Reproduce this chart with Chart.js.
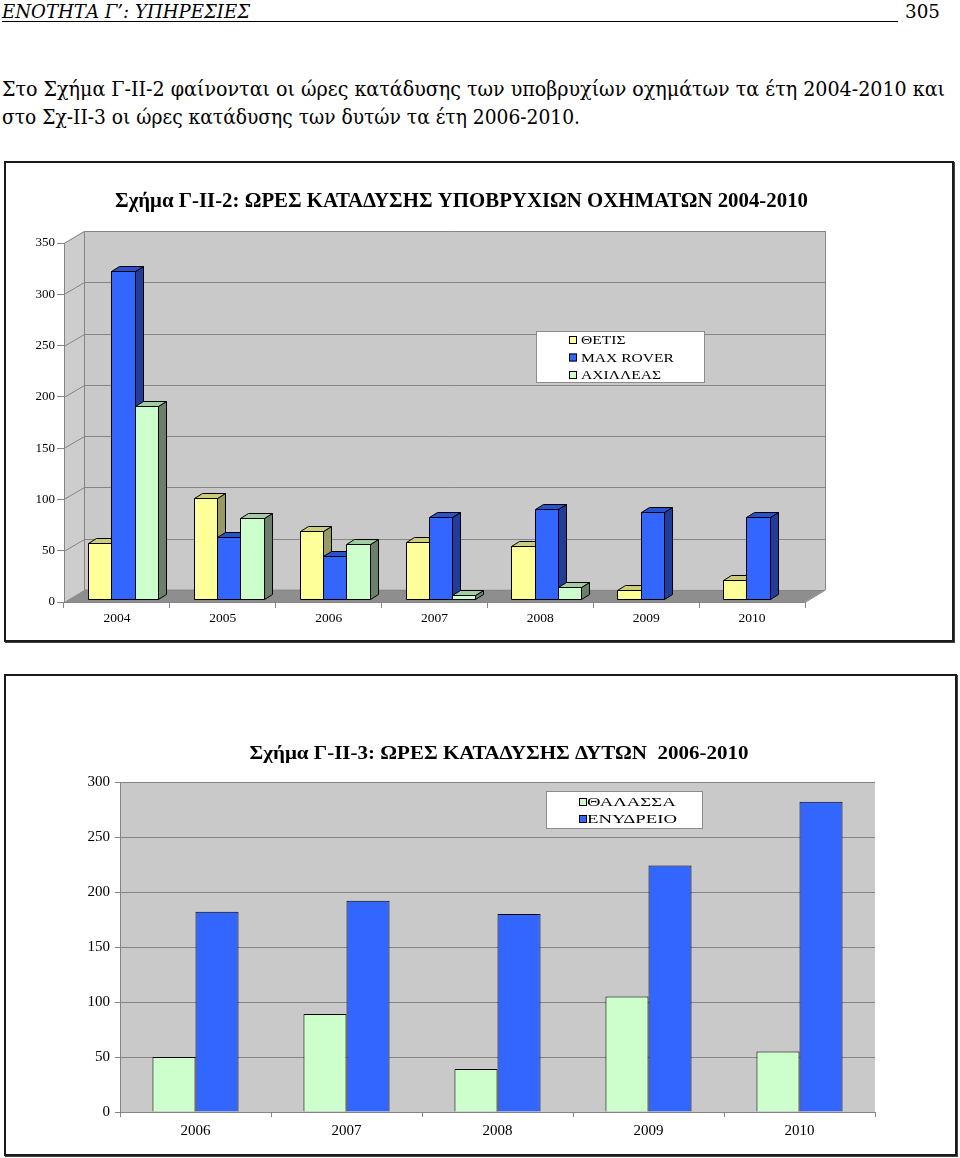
<!DOCTYPE html>
<html lang="el">
<head>
<meta charset="utf-8">
<script src="https://cdn.jsdelivr.net/npm/chart.js@4.4.1/dist/chart.umd.min.js"></script>
<style>
  html, body { margin: 0; padding: 0; }
  body { width: 960px; height: 1158px; background: #fff; position: relative; overflow: hidden; color: #000;
         font-family: 'DejaVu Serif', serif; }
  .t { position: absolute; white-space: pre; transform-origin: 0 0; font-family: 'DejaVu Serif', serif; }
  #hdr { left: 2px; top: 2px; font-size: 19px; line-height: 19px; font-style: italic; }
  #uline { position: absolute; left: 2px; top: 21px; width: 896px; height: 0; border-top: 1px solid #000; }
  #pg { left: 905px; top: 2px; font-size: 19px; line-height: 19px; }
  .p { font-size: 21px; line-height: 21px; left: 2px; }
  #p1 { top: 79px; }
  #p2 { top: 107px; }
  canvas { position: absolute; left: 0; }
  #c1 { top: 161px; }
  #c2 { top: 674px; }
  .frame { position: absolute; box-sizing: border-box; border: 2px solid #1a1a1a; box-shadow: 1px 1px 0 #444; pointer-events: none; }
  #f1 { left: 4px; top: 161px; width: 950px; height: 481px; }
  #f2 { left: 4px; top: 674px; width: 953px; height: 482px; }
</style>
</head>
<body>
<div id="hdr" class="t" data-w="248">ΕΝΟΤΗΤΑ Γ’: ΥΠΗΡΕΣΙΕΣ</div>
<div id="uline"></div>
<div id="pg" class="t" data-w="35">305</div>
<div id="p1" class="t p" data-w="943">Στο Σχήμα Γ-ΙΙ-2 φαίνονται οι ώρες κατάδυσης των υποβρυχίων οχημάτων τα έτη 2004-2010 και</div>
<div id="p2" class="t p" data-w="578">στο Σχ-ΙΙ-3 οι ώρες κατάδυσης των δυτών τα έτη 2006-2010.</div>

<canvas id="c1" width="960" height="481"></canvas>
<canvas id="c2" width="960" height="483"></canvas>
<div id="f1" class="frame"></div>
<div id="f2" class="frame"></div>

<script>
// ---------------- DATA ----------------
const years1 = ['2004', '2005', '2006', '2007', '2008', '2009', '2010'];
const thetis = [55, 98, 66, 56, 52, 9, 19];
const maxRover = [320, 60, 42, 80, 88, 85, 80];
const achilleas = [188, 79, 54, 4, 12, 0, 0];
const yTicks1 = [0, 50, 100, 150, 200, 250, 300, 350];
const title1 = 'Σχήμα Γ-ΙΙ-2: ΩΡΕΣ ΚΑΤΑΔΥΣΗΣ ΥΠΟΒΡΥΧΙΩΝ ΟΧΗΜΑΤΩΝ 2004-2010';
const seriesNames1 = ['ΘΕΤΙΣ', 'MAX ROVER', 'ΑΧΙΛΛΕΑΣ'];

const years2 = ['2006', '2007', '2008', '2009', '2010'];
const thalassa = [50, 89, 39, 105, 55];
const enydreio = [182, 192, 180, 224, 282];
const yTicks2 = [0, 50, 100, 150, 200, 250, 300];
const title2 = 'Σχήμα Γ-ΙΙ-3: ΩΡΕΣ ΚΑΤΑΔΥΣΗΣ ΔΥΤΩΝ  2006-2010';
const seriesNames2 = ['ΘΑΛΑΣΣΑ', 'ΕΝΥΔΡΕΙΟ'];

// ---------------- HTML text fitting ----------------
function fitAll() {
  document.querySelectorAll('[data-w]').forEach(el => {
    el.style.transform = 'none';
    const w = el.getBoundingClientRect().width;
    const target = parseFloat(el.dataset.w);
    if (w > 0) el.style.transform = 'scaleX(' + (target / w) + ')';
  });
}
fitAll();
if (document.fonts && document.fonts.ready) document.fonts.ready.then(fitAll);

// ---------------- helpers ----------------
const SERIF = "'Liberation Serif', 'Times New Roman', serif";
Chart.defaults.font.family = SERIF;
Chart.defaults.color = '#000';

function poly(ctx, pts, fill, stroke) {
  ctx.beginPath();
  ctx.moveTo(pts[0][0], pts[0][1]);
  for (let i = 1; i < pts.length; i++) ctx.lineTo(pts[i][0], pts[i][1]);
  ctx.closePath();
  if (fill) { ctx.fillStyle = fill; ctx.fill(); }
  if (stroke) { ctx.strokeStyle = stroke; ctx.stroke(); }
}

const fitTitle = {
  id: 'fitTitle',
  afterDraw(chart, args, o) {
    const ctx = chart.ctx;
    ctx.save();
    ctx.font = o.font;
    const w = ctx.measureText(o.text).width;
    ctx.translate(o.cx, o.baseline);
    ctx.scale(o.width / w, 1);
    ctx.fillStyle = '#000';
    ctx.textAlign = 'center';
    ctx.textBaseline = 'alphabetic';
    ctx.fillText(o.text, 0, 0);
    ctx.restore();
  }
};

const boxLegend = {
  id: 'boxLegend',
  afterDraw(chart, args, o) {
    const ctx = chart.ctx;
    ctx.save();
    ctx.fillStyle = '#fff';
    ctx.fillRect(o.x, o.y, o.w, o.h);
    ctx.strokeStyle = '#8c8c8c';
    ctx.lineWidth = 1;
    ctx.strokeRect(o.x + 0.5, o.y + 0.5, o.w - 1, o.h - 1);
    ctx.font = o.font;
    const sx = o.refWidth / ctx.measureText(o.refText).width;
    chart.data.datasets.forEach((ds, i) => {
      const by = o.baseline + i * o.gap;
      ctx.fillStyle = ds.backgroundColor;
      ctx.fillRect(o.mx, by - o.ms, o.ms, o.ms);
      ctx.strokeStyle = '#000';
      ctx.strokeRect(o.mx + 0.5, by - o.ms + 0.5, o.ms - 1, o.ms - 1);
      ctx.save();
      ctx.translate(o.tx, by);
      ctx.scale(sx, 1);
      ctx.fillStyle = '#000';
      ctx.textBaseline = 'alphabetic';
      ctx.textAlign = 'left';
      ctx.fillText(ds.label, 0, 0);
      ctx.restore();
    });
    ctx.restore();
  }
};

const walls3D = {
  id: 'walls3D',
  beforeDraw(chart, args, o) {
    const ctx = chart.ctx, a = chart.chartArea, y = chart.scales.y;
    const dx = o.dx, dy = o.dy;
    const L = a.left, R = a.right, T = a.top, B = a.bottom;
    ctx.save();
    ctx.lineWidth = 1;
    poly(ctx, [[L, B], [L + dx, B + dy], [L + dx, T + dy], [L, T]], o.side, null);
    poly(ctx, [[L + dx, T + dy], [R + dx, T + dy], [R + dx, B + dy], [L + dx, B + dy]], o.wall, null);
    poly(ctx, [[L, B], [R, B], [R + dx, B + dy], [L + dx, B + dy]], o.floor, null);
    ctx.strokeStyle = o.line;
    y.ticks.forEach(t => {
      if (t.value === 0) return;
      const py = Math.round(y.getPixelForValue(t.value)) + 0.5;
      ctx.beginPath();
      ctx.moveTo(L, py);
      ctx.lineTo(L + dx + 0.5, py + dy);
      ctx.lineTo(R + dx, py + dy);
      ctx.stroke();
    });
    ctx.beginPath();
    ctx.moveTo(R + dx + 0.5, T + dy);
    ctx.lineTo(R + dx + 0.5, B + dy);
    ctx.lineTo(R, B + 0.5);
    ctx.stroke();
    ctx.beginPath();
    ctx.moveTo(L + dx + 0.5, T + dy);
    ctx.lineTo(L + dx + 0.5, B + dy);
    ctx.lineTo(R + dx, B + dy + 0.5);
    ctx.stroke();
    ctx.restore();
  }
};

const bars3D = {
  id: 'bars3D',
  beforeDatasetDraw() { return false; },
  afterDatasetsDraw(chart, args, o) {
    const ctx = chart.ctx;
    const n = chart.data.labels.length;
    ctx.save();
    ctx.lineWidth = 1;
    ctx.lineJoin = 'miter';
    for (let i = 0; i < n; i++) {
      chart.data.datasets.forEach((ds, j) => {
        const v = ds.data[i];
        if (!v) return;
        const el = chart.getDatasetMeta(j).data[i];
        const p = el.getProps(['x', 'y', 'base', 'width'], true);
        const x0 = Math.round(p.x - p.width / 2 + o.ox) + 0.5;
        const x1 = Math.round(p.x + p.width / 2 + o.ox) + 0.5;
        const yt = Math.round(p.y + o.oy) + 0.5;
        const yb = Math.round(p.base + o.oy) + 0.5;
        const bx = o.dx, by = o.dy;
        poly(ctx, [[x1, yb], [x1 + bx, yb + by], [x1 + bx, yt + by], [x1, yt]], ds.sideColor, '#000');
        poly(ctx, [[x0, yt], [x1, yt], [x1 + bx, yt + by], [x0 + bx, yt + by]], ds.topColor, '#000');
        poly(ctx, [[x0, yt], [x1, yt], [x1, yb], [x0, yb]], ds.backgroundColor, '#000');
      });
    }
    ctx.restore();
  }
};

const plotBg = {
  id: 'plotBg',
  beforeDraw(chart, args, o) {
    const a = chart.chartArea, ctx = chart.ctx;
    ctx.save();
    ctx.fillStyle = o.color;
    ctx.fillRect(a.left, a.top, a.right - a.left, a.bottom - a.top);
    ctx.restore();
  }
};

const GRID = '#858585';

// ---------------- CHART 1 (3D clustered columns) ----------------
new Chart(document.getElementById('c1'), {
  type: 'bar',
  data: {
    labels: years1,
    datasets: [
      { label: seriesNames1[0], data: thetis, backgroundColor: '#FFFF99', sideColor: '#999966', topColor: '#CCCC7A' },
      { label: seriesNames1[1], data: maxRover, backgroundColor: '#3366FF', sideColor: '#1F3D99', topColor: '#2952CC' },
      { label: seriesNames1[2], data: achilleas, backgroundColor: '#CCFFCC', sideColor: '#6B806B', topColor: '#A3CCA3' }
    ]
  },
  options: {
    responsive: false,
    animation: false,
    events: [],
    devicePixelRatio: 1,
    layout: { padding: { left: 24, right: 155, top: 82, bottom: 10 } },
    datasets: { bar: { categoryPercentage: 0.66, barPercentage: 1.0 } },
    scales: {
      x: {
        grid: { display: true, drawOnChartArea: false, drawTicks: true, tickLength: 6, color: GRID, offset: true },
        border: { display: true, color: GRID },
        ticks: { font: { size: 13.5, family: SERIF }, color: '#000', padding: 2, maxRotation: 0 },
        afterFit(s) { s.height = 30; }
      },
      y: {
        min: yTicks1[0], max: yTicks1[yTicks1.length - 1],
        afterBuildTicks(s) { s.ticks = yTicks1.map(v => ({ value: v })); },
        grid: { display: true, drawOnChartArea: false, drawTicks: true, tickLength: 7, color: GRID },
        border: { display: true, color: GRID },
        ticks: { font: { size: 13, family: SERIF }, color: '#000', padding: 2 },
        afterFit(s) { s.width = 40; }
      }
    },
    plugins: {
      legend: { display: false },
      tooltip: { enabled: false },
      title: { display: false },
      walls3D: { dx: 20, dy: -12, side: '#CDCDCD', wall: '#C9C9C9', floor: '#8E8E8E', line: GRID },
      bars3D: { ox: 6, oy: -3, dx: 8, dy: -5 },
      boxLegend: { x: 536, y: 170, w: 169, h: 52, font: '13px ' + SERIF, refText: 'MAX ROVER', refWidth: 93,
                   baseline: 183, gap: 17.5, mx: 569, ms: 8, tx: 581 },
      fitTitle: { text: title1, cx: 461.5, baseline: 46, font: 'bold 20px ' + SERIF, width: 693 }
    }
  },
  plugins: [walls3D, bars3D, boxLegend, fitTitle]
});

// ---------------- CHART 2 (2D clustered columns) ----------------
new Chart(document.getElementById('c2'), {
  type: 'bar',
  data: {
    labels: years2,
    datasets: [
      { label: seriesNames2[0], data: thalassa, backgroundColor: '#CCFFCC', borderColor: '#000', borderWidth: 1, borderSkipped: 'start' },
      { label: seriesNames2[1], data: enydreio, backgroundColor: '#3366FF', borderColor: '#000', borderWidth: 1, borderSkipped: 'start' }
    ]
  },
  options: {
    responsive: false,
    animation: false,
    events: [],
    devicePixelRatio: 1,
    layout: { padding: { left: 70, right: 85, top: 108, bottom: 15 } },
    datasets: { bar: { categoryPercentage: 0.57, barPercentage: 1.0 } },
    scales: {
      x: {
        grid: { display: true, drawOnChartArea: false, drawTicks: true, tickLength: 5, color: GRID, offset: true },
        border: { display: true, color: GRID },
        ticks: { font: { size: 15, family: SERIF }, color: '#000', padding: 5, maxRotation: 0 },
        afterFit(s) { s.height = 30; }
      },
      y: {
        min: yTicks2[0], max: yTicks2[yTicks2.length - 1],
        afterBuildTicks(s) { s.ticks = yTicks2.map(v => ({ value: v })); },
        grid: { display: true, drawOnChartArea: true, drawTicks: true, tickLength: 5, color: GRID },
        border: { display: true, color: GRID },
        ticks: { font: { size: 15, family: SERIF }, color: '#000', padding: 5 },
        afterFit(s) { s.width = 50; }
      }
    },
    plugins: {
      legend: { display: false },
      tooltip: { enabled: false },
      title: { display: false },
      plotBg: { color: '#C9C9C9' },
      boxLegend: { x: 546, y: 117, w: 157, h: 38, font: '12.5px ' + SERIF, refText: 'ΕΝΥΔΡΕΙΟ', refWidth: 90,
                   baseline: 132, gap: 17, mx: 579, ms: 8, tx: 587 },
      fitTitle: { text: title2, cx: 499, baseline: 85, font: 'bold 18px ' + SERIF, width: 499 }
    }
  },
  plugins: [plotBg, boxLegend, fitTitle]
});
</script>
</body>
</html>
